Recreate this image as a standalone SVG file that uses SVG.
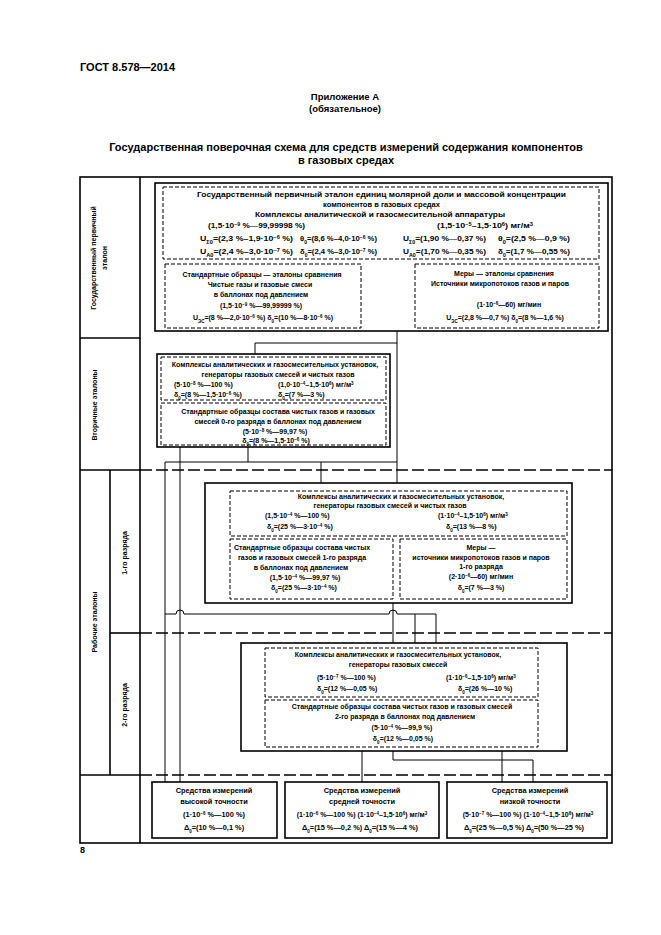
<svg xmlns="http://www.w3.org/2000/svg" width="661" height="935" viewBox="0 0 661 935">
<style>
.t{font-family:"Liberation Sans",Arial,sans-serif;font-weight:bold;font-size:7px;fill:#000}
.c{text-anchor:middle}
.s{font-size:4.5px;baseline-shift:super}
.b{font-size:4.5px;baseline-shift:sub}
.h{font-family:"Liberation Sans",Arial,sans-serif;font-weight:bold;fill:#000}
.solid{fill:none;stroke:#000;stroke-width:1.6}
.dash{fill:none;stroke:#000;stroke-width:1;stroke-dasharray:4 2}
.sep{fill:none;stroke:#000;stroke-width:1.6;stroke-dasharray:12 4}
.ln{fill:none;stroke:#000;stroke-width:1}
.bt{font-size:7.4px}
</style>
<rect width="661" height="935" fill="#fff"/>
<text class="h" x="80" y="71" font-size="11">ГОСТ 8.578—2014</text>
<text class="h" x="345" y="100" font-size="9.5" text-anchor="middle">Приложение А</text>
<text class="h" x="345" y="112" font-size="9.5" text-anchor="middle">(обязательное)</text>
<text class="h" x="346" y="151" font-size="11" text-anchor="middle">Государственная поверочная схема для средств измерений содержания компонентов</text>
<text class="h" x="346" y="164" font-size="11" text-anchor="middle">в  газовых средах</text>
<text class="h" x="80" y="853" font-size="9" font-weight="normal">8</text>

<g id="frame">
<rect x="80" y="177" width="532" height="666" class="solid"/>
<line x1="140" y1="177" x2="140" y2="843" class="solid"/>
<line x1="80" y1="338" x2="140" y2="338" class="solid"/>
<line x1="80" y1="470" x2="140" y2="470" class="solid"/>
<line x1="80" y1="775" x2="140" y2="775" class="solid"/>
<line x1="110" y1="470" x2="110" y2="775" class="solid"/>
<line x1="110" y1="633" x2="140" y2="633" class="solid"/>
<line x1="140" y1="470" x2="612" y2="470" class="sep"/>
<line x1="140" y1="633" x2="612" y2="633" class="sep"/>
<line x1="140" y1="775" x2="612" y2="775" class="sep"/>
<text class="t c" transform="translate(96,258) rotate(-90)">Государственный первичный</text>
<text class="t c" transform="translate(107,258) rotate(-90)">эталон</text>
<text class="t c" transform="translate(97,405) rotate(-90)">Вторичные эталоны</text>
<text class="t c" transform="translate(97,622) rotate(-90)">Рабочие эталоны</text>
<text class="t c" transform="translate(127,553) rotate(-90)">1-го разряда</text>
<text class="t c" transform="translate(127,705) rotate(-90)">2-го разряда</text>
</g>

<g id="primary">
<rect x="155" y="183" width="453" height="148" class="solid"/>
<rect x="163" y="187" width="436" height="72" class="dash"/>
<text class="t" x="197" y="197" textLength="369" lengthAdjust="spacingAndGlyphs">Государственный первичный эталон единиц молярной доли и массовой концентрации</text>
<text class="t" x="323" y="207" textLength="117" lengthAdjust="spacingAndGlyphs">компонентов в газовых средах</text>
<text class="t" x="255" y="217" textLength="250" lengthAdjust="spacingAndGlyphs">Комплексы аналитической и газосмесительной аппаратуры</text>
<text class="t" x="208" y="228" textLength="97" lengthAdjust="spacingAndGlyphs">(1,5·10<tspan class="s">−9</tspan> %—99,99998 %)</text>
<text class="t" x="437" y="228" textLength="96" lengthAdjust="spacingAndGlyphs">(1,5·10<tspan class="s">−5</tspan>–1,5·10<tspan class="s">6</tspan>) мг/м<tspan class="s">3</tspan></text>
<text class="t" x="200" y="241" textLength="93" lengthAdjust="spacingAndGlyphs">U<tspan class="b">Σ0</tspan>=(2,3 %–1,9·10<tspan class="s">−6</tspan> %)</text>
<text class="t" x="300" y="241" textLength="77" lengthAdjust="spacingAndGlyphs">θ<tspan class="b">0</tspan>=(8,6 %–4,0·10<tspan class="s">−6</tspan> %)</text>
<text class="t" x="403" y="241" textLength="83" lengthAdjust="spacingAndGlyphs">U<tspan class="b">Σ0</tspan>=(1,90 %—0,37 %)</text>
<text class="t" x="498" y="241" textLength="72" lengthAdjust="spacingAndGlyphs">θ<tspan class="b">0</tspan>=(2,5 %—0,9 %)</text>
<text class="t" x="200" y="254" textLength="93" lengthAdjust="spacingAndGlyphs">U<tspan class="b">A0</tspan>=(2,4 %–3,0·10<tspan class="s">−7</tspan> %)</text>
<text class="t" x="300" y="254" textLength="77" lengthAdjust="spacingAndGlyphs">δ<tspan class="b">0</tspan>=(2,4 %–3,0·10<tspan class="s">−7</tspan> %)</text>
<text class="t" x="403" y="254" textLength="83" lengthAdjust="spacingAndGlyphs">U<tspan class="b">A0</tspan>=(1,70 %—0,35 %)</text>
<text class="t" x="498" y="254" textLength="72" lengthAdjust="spacingAndGlyphs">δ<tspan class="b">0</tspan>=(1,7 %—0,55 %)</text>
<rect x="165" y="264" width="196" height="64" class="dash"/>
<text class="t c" x="262" y="277">Стандартные образцы — эталоны сравнения</text>
<text class="t c" x="260" y="287">Чистые газы  и газовые смеси</text>
<text class="t c" x="261" y="297">в баллонах под давлением</text>
<text class="t c" x="261" y="308">(1,5·10<tspan class="s">−9</tspan> %—99,99999 %)</text>
<text class="t c" x="263" y="320">U<tspan class="b">ЭС</tspan>=(8 %—2,0·10<tspan class="s">−6</tspan> %)      δ<tspan class="b">0</tspan>=(10 %—8·10<tspan class="s">−6</tspan> %)</text>
<rect x="415" y="264" width="184" height="64" class="dash"/>
<text class="t c" x="504" y="276">Меры — эталоны сравнения</text>
<text class="t c" x="500" y="286">Источники микропотоков газов и паров</text>
<text class="t c" x="509" y="307">(1·10<tspan class="s">−6</tspan>—60) мг/мин</text>
<text class="t c" x="505" y="320">U<tspan class="b">ЭС</tspan>=(2,8 %—0,7 %)      δ<tspan class="b">0</tspan>=(8 %—1,6 %)</text>
</g>

<g id="secondary">
<rect x="157" y="354" width="233" height="93" class="solid"/>
<rect x="161" y="357" width="225" height="43" class="dash"/>
<text class="t c" x="275" y="367">Комплексы аналитических и газосмесительных установок,</text>
<text class="t c" x="278" y="377">генераторы газовых смесей и чистых газов</text>
<text class="t" x="174" y="387">(5·10<tspan class="s">−8</tspan> %—100 %)</text>
<text class="t" x="278" y="387">(1,0·10<tspan class="s">−4</tspan>–1,5·10<tspan class="s">6</tspan>) мг/м<tspan class="s">3</tspan></text>
<text class="t" x="174" y="397">δ<tspan class="b">0</tspan>=(8 %—1,5·10<tspan class="s">−6</tspan> %)</text>
<text class="t" x="278" y="397">δ<tspan class="b">0</tspan>=(7 %—3 %)</text>
<rect x="161" y="403" width="225" height="42" class="dash"/>
<text class="t c" x="278" y="414">Стандартные образцы состава чистых газов и газовых</text>
<text class="t c" x="278" y="424">смесей 0-го разряда в баллонах под давлением</text>
<text class="t c" x="275" y="434">(5·10<tspan class="s">−8</tspan> %—99,97 %)</text>
<text class="t c" x="276" y="443">δ<tspan class="b">0</tspan>=(8 %—1,5·10<tspan class="s">−6</tspan> %)</text>
</g>

<g id="rank1">
<rect x="205" y="483" width="367" height="120" class="solid"/>
<rect x="230" y="491" width="337" height="45" class="dash"/>
<text class="t c" x="401" y="499">Комплексы аналитических и газосмесительных установок,</text>
<text class="t c" x="390" y="508">генераторы газовых смесей и чистых газов</text>
<text class="t" x="265" y="518">(1,5·10<tspan class="s">−4</tspan> %—100 %)</text>
<text class="t" x="438" y="518">(1·10<tspan class="s">−4</tspan>–1,5·10<tspan class="s">6</tspan>) мг/м<tspan class="s">3</tspan></text>
<text class="t" x="267" y="529">δ<tspan class="b">0</tspan>=(25 %—3·10<tspan class="s">−4</tspan> %)</text>
<text class="t" x="446" y="529">δ<tspan class="b">0</tspan>=(13 %—8 %)</text>
<rect x="230" y="539" width="163" height="60" class="dash"/>
<text class="t c" x="302" y="550">Стандартные образцы состава чистых</text>
<text class="t c" x="302" y="560">газов и газовых смесей 1-го разряда</text>
<text class="t c" x="301" y="570">в баллонах под давлением</text>
<text class="t c" x="305" y="580">(1,5·10<tspan class="s">−4</tspan> %—99,97 %)</text>
<text class="t c" x="304" y="590">δ<tspan class="b">0</tspan>=(25 %—3·10<tspan class="s">−4</tspan> %)</text>
<rect x="400" y="539" width="167" height="60" class="dash"/>
<text class="t c" x="481" y="550">Меры —</text>
<text class="t c" x="481" y="560">источники микропотоков газов и паров</text>
<text class="t c" x="481" y="569">1-го разряда</text>
<text class="t c" x="481" y="579">(2·10<tspan class="s">−6</tspan>—60) мг/мин</text>
<text class="t c" x="481" y="590">δ<tspan class="b">0</tspan>=(7 %—3 %)</text>
</g>

<g id="rank2">
<rect x="241" y="643" width="326" height="108" class="solid"/>
<rect x="265" y="648" width="273" height="49" class="dash"/>
<text class="t c" x="398" y="657">Комплексы аналитических и газосмесительных установок,</text>
<text class="t c" x="398" y="667">генераторы газовых смесей</text>
<text class="t" x="317" y="680">(5·10<tspan class="s">−7</tspan> %—100 %)</text>
<text class="t" x="446" y="680">(1·10<tspan class="s">−6</tspan>–1,5·10<tspan class="s">6</tspan>) мг/м<tspan class="s">3</tspan></text>
<text class="t" x="317" y="691">δ<tspan class="b">0</tspan>=(12 %—0,05 %)</text>
<text class="t" x="458" y="691">δ<tspan class="b">0</tspan>=(26 %—10 %)</text>
<rect x="265" y="700" width="273" height="47" class="dash"/>
<text class="t c" x="402" y="709">Стандартные образцы состава чистых газов и газовых смесей</text>
<text class="t c" x="405" y="719">2-го разряда в баллонах под давлением</text>
<text class="t c" x="402" y="730">(5·10<tspan class="s">−4</tspan> %—99,9 %)</text>
<text class="t c" x="403" y="741">δ<tspan class="b">0</tspan>=(12 %—0,05 %)</text>
</g>

<g id="high">
<rect x="152" y="782" width="125" height="56" class="solid"/>
<text class="t c bt" x="214" y="793">Средства измерений</text>
<text class="t c bt" x="214" y="804">высокой точности</text>
<text class="t c bt" x="214" y="817">(1·10<tspan class="s">−6</tspan> %—100 %)</text>
<text class="t c bt" x="214" y="830">Δ<tspan class="b">0</tspan>=(10 %—0,1 %)</text>
</g>
<g id="medium">
<rect x="285" y="782" width="154" height="56" class="solid"/>
<text class="t c bt" x="362" y="793">Средства измерений</text>
<text class="t c bt" x="362" y="804">средней точности</text>
<text class="t c" x="362" y="817">(1·10<tspan class="s">−6</tspan> %—100 %)  (1·10<tspan class="s">−4</tspan>–1,5·10<tspan class="s">6</tspan>) мг/м<tspan class="s">3</tspan></text>
<text class="t c bt" x="360" y="830">Δ<tspan class="b">0</tspan>=(15 %—0,2 %)  Δ<tspan class="b">0</tspan>=(15 %—4 %)</text>
</g>
<g id="low">
<rect x="447" y="782" width="160" height="56" class="solid"/>
<text class="t c bt" x="530" y="793">Средства измерений</text>
<text class="t c bt" x="530" y="804">низкой точности</text>
<text class="t c" x="528" y="817">(5·10<tspan class="s">−7</tspan> %—100 %)  (1·10<tspan class="s">−4</tspan>–1,5·10<tspan class="s">6</tspan>) мг/м<tspan class="s">3</tspan></text>
<text class="t c bt" x="524" y="830">Δ<tspan class="b">0</tspan>=(25 %—0,5 %)  Δ<tspan class="b">0</tspan>=(50 %—25 %)</text>
</g>

<g id="connectors">
<polyline points="397,331 397,483" class="ln"/>
<polyline points="397,343 255,343 255,354" class="ln"/>
<polyline points="248,447 248,462" class="ln"/>
<polyline points="165,462 397,462" class="ln"/>
<polyline points="165,462 165,782" class="ln"/>
<polyline points="180,447 180,782" class="ln"/>
<polyline points="321,462 321,483" class="ln"/>
<polyline points="393,603 393,643" class="ln"/>
<path d="M165,614 L176,614 a4,4 0 0 1 8,0 L389,614 a4,4 0 0 1 8,0 L436,614" class="ln"/>
<polyline points="415,614 415,643" class="ln"/>
<polyline points="436,614 436,643" class="ln"/>
<polyline points="362,751 362,782" class="ln"/>
<polyline points="393,751 393,760 533,760 533,782" class="ln"/>
<polyline points="502,751 502,782" class="ln"/>
</g>
</svg>
